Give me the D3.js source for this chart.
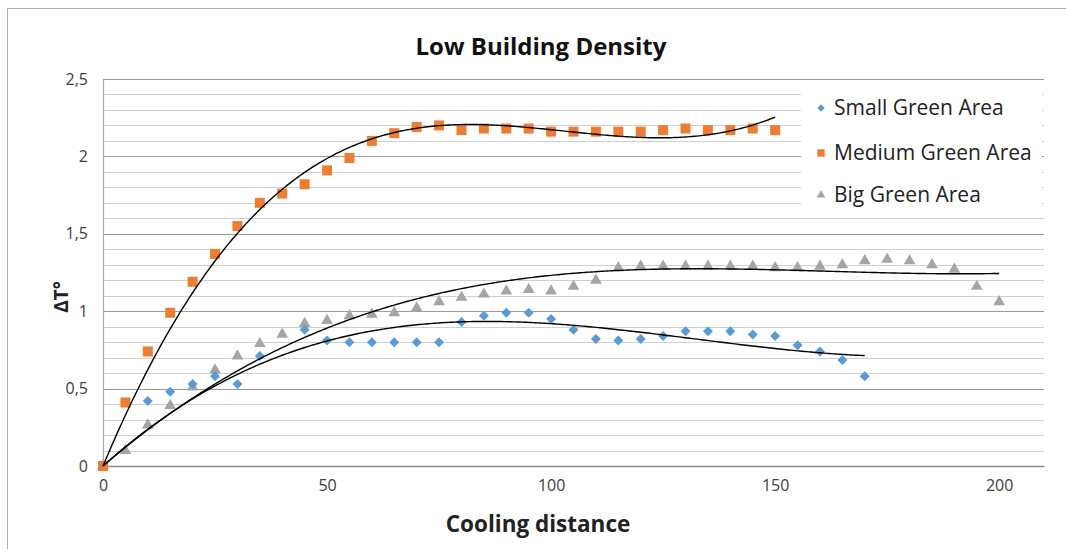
<!DOCTYPE html>
<html>
<head>
<meta charset="utf-8">
<script src="https://cdn.jsdelivr.net/npm/d3@7"></script>
<style>
  html, body { margin: 0; padding: 0; background: #fff; }
  svg { display: block; }
  text { font-family: "Open Sans", "Noto Sans", sans-serif; }
</style>
</head>
<body>
<svg id="chart" width="1066" height="549"></svg>
<script>
// ---------- data ----------
const seriesNames = ["Small Green Area", "Medium Green Area", "Big Green Area"];

const smallX = [0, 10, 15, 20, 25, 30, 35, 45, 50, 55, 60, 65, 70, 75, 80, 85, 90, 95, 100, 105, 110, 115, 120, 125, 130, 135, 140, 145, 150, 155, 160, 165, 170];
const smallY = [0, 0.42, 0.48, 0.53, 0.58, 0.53, 0.71, 0.88, 0.81, 0.80, 0.80, 0.80, 0.80, 0.80, 0.93, 0.97, 0.99, 0.99, 0.95, 0.88, 0.82, 0.81, 0.82, 0.84, 0.87, 0.87, 0.87, 0.85, 0.84, 0.78, 0.74, 0.685, 0.58];

const mediumX = [0, 5, 10, 15, 20, 25, 30, 35, 40, 45, 50, 55, 60, 65, 70, 75, 80, 85, 90, 95, 100, 105, 110, 115, 120, 125, 130, 135, 140, 145, 150];
const mediumY = [0, 0.41, 0.74, 0.99, 1.19, 1.37, 1.55, 1.70, 1.76, 1.82, 1.91, 1.99, 2.10, 2.15, 2.19, 2.20, 2.17, 2.18, 2.18, 2.18, 2.16, 2.16, 2.16, 2.16, 2.16, 2.17, 2.18, 2.17, 2.17, 2.18, 2.17];

const bigX = [0, 5, 10, 15, 20, 25, 30, 35, 40, 45, 50, 55, 60, 65, 70, 75, 80, 85, 90, 95, 100, 105, 110, 115, 120, 125, 130, 135, 140, 145, 150, 155, 160, 165, 170, 175, 180, 185, 190, 195, 200];
const bigY = [0, 0.10, 0.265, 0.39, 0.51, 0.62, 0.71, 0.79, 0.85, 0.92, 0.94, 0.97, 0.98, 0.99, 1.02, 1.06, 1.09, 1.11, 1.13, 1.14, 1.13, 1.16, 1.20, 1.28, 1.29, 1.29, 1.29, 1.29, 1.29, 1.29, 1.28, 1.28, 1.29, 1.30, 1.325, 1.335, 1.325, 1.30, 1.27, 1.16, 1.06];

// polynomial trendlines (order 3, intercept fixed at 0)
const trendOrder = 3;

const xTicks = [0, 50, 100, 150, 200];
const yTicks = [0, 0.5, 1, 1.5, 2, 2.5];
const yMinorTicks = [0, 0.1, 0.2, 0.3, 0.4, 0.5, 0.6, 0.7, 0.8, 0.9, 1, 1.1, 1.2, 1.3, 1.4, 1.5, 1.6, 1.7, 1.8, 1.9, 2, 2.1, 2.2, 2.3, 2.4, 2.5];

const colors = ["#5B9BD5", "#ED7D31", "#A5A5A5"];

// ---------- layout ----------
const svg = d3.select("#chart");
const plot = { left: 103, right: 1044, top: 79, bottom: 466 };

const x = d3.scaleLinear().domain([0, 210]).range([plot.left, plot.right]);
const y = d3.scaleLinear().domain([0, 2.5]).range([plot.bottom, plot.top]);

// outer chart frame (cropped in reference)
svg.append("rect")
  .attr("x", 7.5).attr("y", 8.5).attr("width", 1070).attr("height", 560)
  .attr("fill", "none").attr("stroke", "#b0b0b0").attr("stroke-width", 1);

// gridlines
svg.append("g").selectAll("line")
  .data(yMinorTicks.filter(v => yTicks.indexOf(v) < 0))
  .join("line")
  .attr("x1", plot.left).attr("x2", plot.right)
  .attr("y1", d => Math.round(y(d)) + 0.5).attr("y2", d => Math.round(y(d)) + 0.5)
  .attr("stroke", "#cfcfcf").attr("stroke-width", 1.2);

svg.append("g").selectAll("line")
  .data(yTicks.filter(v => v > 0))
  .join("line")
  .attr("x1", plot.left).attr("x2", plot.right)
  .attr("y1", d => Math.round(y(d)) + 0.5).attr("y2", d => Math.round(y(d)) + 0.5)
  .attr("stroke", "#9a9a9a").attr("stroke-width", 1.2);

// axes
const xAxis = d3.axisBottom(x).tickValues(xTicks).tickSize(0).tickPadding(14)
  .tickFormat(d => String(d));
const gx = svg.append("g").attr("transform", `translate(0,${y(0)})`).call(xAxis);
gx.select(".domain").attr("stroke", "#8c8c8c").attr("stroke-width", 1.3);
gx.selectAll("text").attr("font-size", 16).attr("fill", "#404040")
  .attr("font-family", "'Open Sans', sans-serif");

const yAxis = d3.axisLeft(y).tickValues(yTicks).tickSize(0).tickPadding(15)
  .tickFormat(d => String(d).replace(".", ","));
const gy = svg.append("g").attr("transform", `translate(${x(0)},0)`).call(yAxis);
gy.select(".domain").attr("stroke", "#a8a8a8").attr("stroke-width", 1.2);
gy.selectAll("text").attr("font-size", 16).attr("fill", "#404040")
  .attr("font-family", "'Open Sans', sans-serif");

// titles
svg.append("text").attr("x", 541).attr("y", 55).attr("text-anchor", "middle")
  .attr("font-size", 24).attr("font-weight", "bold").attr("fill", "#111")
  .text("Low Building Density");
svg.append("text").attr("x", 538).attr("y", 532).attr("text-anchor", "middle")
  .attr("font-size", 22.5).attr("font-weight", "bold").attr("fill", "#222")
  .text("Cooling distance");
svg.append("text").attr("transform", "translate(68,297) rotate(-90)")
  .attr("text-anchor", "middle").attr("font-size", 19).attr("font-weight", "bold")
  .attr("fill", "#222").text("ΔT°");

// markers
const symSize = [50, 100, 60];
function markerPath(s, scale) {
  if (s === 2) return d3.symbol().type(d3.symbolTriangle).size(symSize[2] * scale)();
  return d3.symbol().type(d3.symbolSquare).size(symSize[s] * scale)();
}
const data = [
  smallX.map((v, i) => [v, smallY[i]]),
  mediumX.map((v, i) => [v, mediumY[i]]),
  bigX.map((v, i) => [v, bigY[i]])
];

const drawOrder = [2, 0, 1];
drawOrder.forEach(s => {
  svg.append("g").selectAll("path")
    .data(data[s]).join("path")
    .attr("transform", d => `translate(${x(d[0])},${y(d[1])})` + (s === 0 ? " rotate(45)" : ""))
    .attr("d", markerPath(s, 1))
    .attr("fill", colors[s]);
});

// polynomial least-squares trendline through the origin
function polyFit0(pts, order) {
  const n = order;
  const A = Array.from({ length: n }, () => new Array(n + 1).fill(0));
  pts.forEach(([px, py]) => {
    const t = px / 100;
    for (let r = 0; r < n; r++) {
      for (let c = 0; c < n; c++) A[r][c] += Math.pow(t, r + 1) * Math.pow(t, c + 1);
      A[r][n] += Math.pow(t, r + 1) * py;
    }
  });
  for (let col = 0; col < n; col++) {
    let piv = col;
    for (let r = col + 1; r < n; r++) if (Math.abs(A[r][col]) > Math.abs(A[piv][col])) piv = r;
    [A[col], A[piv]] = [A[piv], A[col]];
    for (let r = 0; r < n; r++) {
      if (r === col) continue;
      const f = A[r][col] / A[col][col];
      for (let c = col; c <= n; c++) A[r][c] -= f * A[col][c];
    }
  }
  const coef = A.map((row, i) => row[n] / row[i]);
  return xv => coef.reduce((s, c, k) => s + c * Math.pow(xv / 100, k + 1), 0);
}

const line = d3.line().x(d => x(d[0])).y(d => y(d[1]));
data.forEach(pts => {
  const f = polyFit0(pts, trendOrder);
  const xmax = d3.max(pts, d => d[0]);
  const samples = d3.range(0, xmax + 0.001, 0.5).map(v => [v, f(v)]);
  svg.append("path").datum(samples).attr("d", line)
    .attr("fill", "none").attr("stroke", "#000").attr("stroke-width", 1.4);
});

// legend
const lg = svg.append("g");
lg.append("rect").attr("x", 801).attr("y", 82).attr("width", 241).attr("height", 128)
  .attr("fill", "#fff");
const legendY = [108, 153, 195];
seriesNames.forEach((name, i) => {
  lg.append("path")
    .attr("transform", `translate(821,${legendY[i]})` + (i === 0 ? " rotate(45)" : ""))
    .attr("d", markerPath(i, 0.55))
    .attr("fill", colors[i]);
  lg.append("text").attr("x", 834).attr("y", legendY[i] + 7)
    .attr("font-size", 21).attr("fill", "#222").text(name);
});
</script>
</body>
</html>
